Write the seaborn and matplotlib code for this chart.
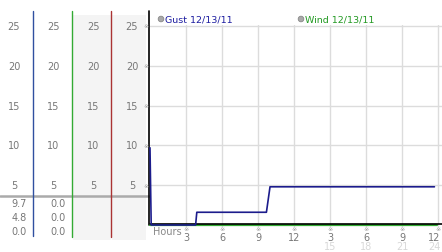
import matplotlib
matplotlib.use("Agg")
import matplotlib.pyplot as plt
import matplotlib.transforms as mtransforms
from matplotlib.patches import Rectangle, Circle
import seaborn as sns
import pandas as pd

# ---- data ----
gust_hours = [0.0, 0.1, 3.8, 3.9, 9.7, 10.0, 23.7]
gust_speed = [9.7, 0.0, 0.0, 1.6, 1.6, 4.8, 4.8]
wind_hours = [0.0, 23.9]
wind_speed = [0.0, 0.0]
y_ticks = [5, 10, 15, 20, 25]
x_ticks = [3, 6, 9, 12, 15, 18, 21, 24]
x_labels_top = ["3", "6", "9", "12", "3", "6", "9", "12"]
x_labels_bottom = ["", "", "", "", "15", "18", "21", "24"]
gust_stats = ["9.7", "4.8", "0.0"]
wind_stats = ["0.0", "0.0", "0.0"]
legend_labels = ["Gust 12/13/11", "Wind 12/13/11"]

sns.set_style("white")
plt.rcParams['font.family'] = ['DejaVu Sans']

W, H = 442, 253
fig = plt.figure(figsize=(W / 100, H / 100), dpi=100)

# overlay in pixel coordinates
ov = fig.add_axes([0, 0, 1, 1], zorder=0)
ov.set_xlim(0, W)
ov.set_ylim(H, 0)
ov.axis("off")

# main axes
y_lo, y_hi = -0.2, 25.1
px_per = 7.96
bot_px = 226 + 0.2 * px_per
top_px = 226 - 25.1 * px_per
ax = fig.add_axes([150 / W, (H - bot_px) / H, 292 / W, (bot_px - top_px) / H], zorder=1)
ax.set_facecolor("none")
ax.set_xlim(0, 24.33)
ax.set_ylim(y_lo, y_hi)
ax.set_xticks(x_ticks)
ax.set_yticks(y_ticks)
ax.grid(True, color="#dcdcdc", lw=1)
ax.tick_params(length=0, labelbottom=False, labelleft=False)
for s in ax.spines.values():
    s.set_visible(False)

gust_df = pd.DataFrame({"hour": gust_hours, "speed": gust_speed})
wind_df = pd.DataFrame({"hour": wind_hours, "speed": wind_speed})
sns.lineplot(data=wind_df, x="hour", y="speed", ax=ax, color="#33aa33", lw=1.6,
             sort=False, estimator=None, clip_on=False, zorder=2)
ax.axhline(0.12, color="black", lw=1.2, zorder=3, clip_on=False)
sns.lineplot(data=gust_df, x="hour", y="speed", ax=ax, color="#1c1c8c", lw=1.2,
             sort=False, estimator=None, clip_on=False, zorder=4)
ax.set_xlabel("")
ax.set_ylabel("")

# ---- left panel decorations ----
ov.add_patch(Rectangle((73, 16), 38, 225, color="#f4f4f4", lw=0))
ov.add_patch(Rectangle((112, 16), 34, 225, color="#f4f4f4", lw=0))
ov.plot([0, 149], [197, 197], color="#aaaaaa", lw=1.8)
ov.plot([33, 33], [12, 237], color="#3050a0", lw=1)
ov.plot([72, 72], [12, 238], color="#33aa33", lw=1)
ov.plot([111, 111], [12, 238], color="#aa3333", lw=1)
ov.plot([149, 149], [12, 226], color="black", lw=1.2)

blend = mtransforms.blended_transform_factory(ov.transData, ax.transData)
for v in y_ticks:
    for cx in [14, 53, 93, 132]:
        ov.text(cx, v, str(v), transform=blend, ha="center", va="center",
                fontsize=7, color="#777777")
    ov.text(146, v, "※", transform=blend, ha="center", va="center",
            fontsize=4.5, color="#999999")

for i, (g, w) in enumerate(zip(gust_stats, wind_stats)):
    y = 204 + 14 * i
    ov.text(27, y, g, ha="right", va="center", fontsize=7, color="#777777")
    ov.text(66, y, w, ha="right", va="center", fontsize=7, color="#777777")

# legend
for (cx, lab, col) in [(161, legend_labels[0], "#1c1ca0"), (301, legend_labels[1], "#229922")]:
    ov.add_patch(Circle((cx, 20), 2.8, facecolor="#aaaaaa", edgecolor="#888888", lw=0.6))
    ov.text(cx + 4, 20, lab, ha="left", va="center", fontsize=6.8, color=col)

# x labels
xblend = mtransforms.blended_transform_factory(ax.transData, ov.transData)
ov.text(153, 232, "Hours", ha="left", va="center", fontsize=7, color="#888888")
for xt, lt, lb in zip(x_ticks, x_labels_top, x_labels_bottom):
    ov.text(xt, 230, "※", transform=xblend, ha="center", va="center",
            fontsize=4.5, color="#999999")
    lx = xt if xt < 24 else xt - 0.3
    ov.text(lx, 238.5, lt, transform=xblend, ha="center", va="center",
            fontsize=7, color="#777777")
    if lb:
        ov.text(lx, 247.5, lb, transform=xblend, ha="center", va="center",
                fontsize=7, color="#d8d8d8")

fig.savefig("out.png", dpi=100)
